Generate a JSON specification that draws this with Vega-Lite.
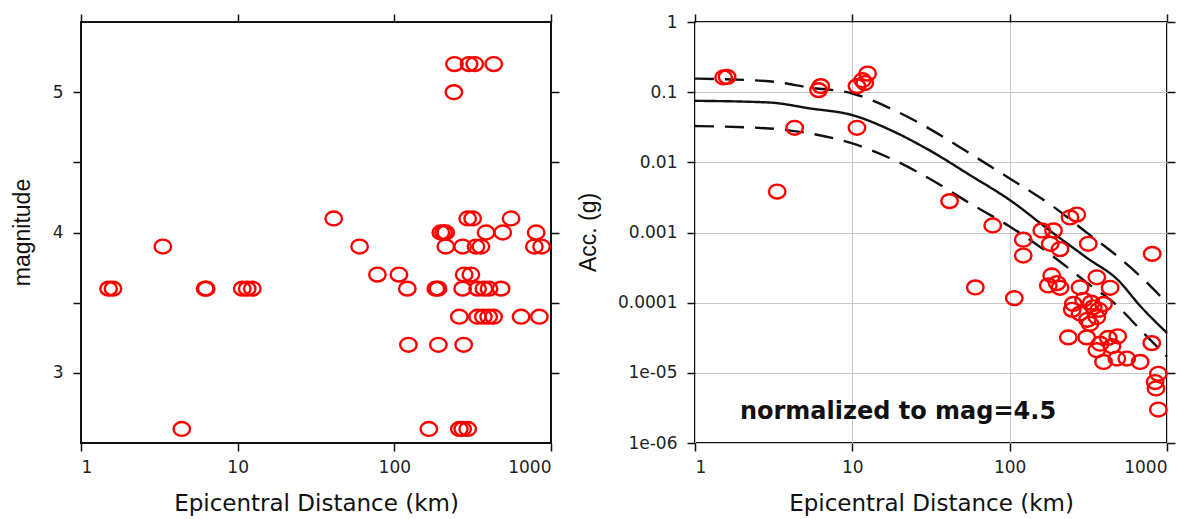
{
  "$schema": "https://vega.github.io/schema/vega-lite/v6.json",
  "background": "white",
  "padding": {"left": 10, "top": 12, "right": 5, "bottom": 5},
  "spacing": 144,
  "bounds": "flush",
  "config": {
    "view": {"stroke": "#111", "strokeWidth": 2},
    "axis": {
      "domain": false, "grid": false, "tickColor": "#111", "tickSize": 8, "tickWidth": 1.5,
      "labelFont": "DejaVu Sans", "labelFontSize": 17, "labelColor": "#222", "labelPadding": 8,
      "titleFont": "DejaVu Sans", "titleFontWeight": "normal", "titleColor": "#111",
      "gridColor": "#c8c8c8", "gridWidth": 1
    }
  },
  "datasets": {
    "mag": [
      {"dist": 242, "mag": 5.2}, {"dist": 300, "mag": 5.2}, {"dist": 326, "mag": 5.2}, {"dist": 431, "mag": 5.2},
      {"dist": 240, "mag": 5.0},
      {"dist": 41, "mag": 4.1}, {"dist": 294, "mag": 4.1}, {"dist": 316, "mag": 4.1}, {"dist": 556, "mag": 4.1},
      {"dist": 198, "mag": 4.0}, {"dist": 206, "mag": 4.0}, {"dist": 213, "mag": 4.0}, {"dist": 385, "mag": 4.0}, {"dist": 492, "mag": 4.0}, {"dist": 804, "mag": 4.0},
      {"dist": 3.33, "mag": 3.9}, {"dist": 60, "mag": 3.9}, {"dist": 213, "mag": 3.9}, {"dist": 273, "mag": 3.9}, {"dist": 332, "mag": 3.9}, {"dist": 357, "mag": 3.9}, {"dist": 783, "mag": 3.9}, {"dist": 870, "mag": 3.9},
      {"dist": 78, "mag": 3.7}, {"dist": 107, "mag": 3.7}, {"dist": 279, "mag": 3.7}, {"dist": 308, "mag": 3.7},
      {"dist": 1.5, "mag": 3.6}, {"dist": 1.6, "mag": 3.6}, {"dist": 6.2, "mag": 3.6}, {"dist": 6.3, "mag": 3.6}, {"dist": 10.7, "mag": 3.6}, {"dist": 11.5, "mag": 3.6}, {"dist": 12.4, "mag": 3.6}, {"dist": 121, "mag": 3.6}, {"dist": 184, "mag": 3.6}, {"dist": 190, "mag": 3.6}, {"dist": 273, "mag": 3.6}, {"dist": 340, "mag": 3.6}, {"dist": 373, "mag": 3.6}, {"dist": 402, "mag": 3.6}, {"dist": 480, "mag": 3.6},
      {"dist": 260, "mag": 3.4}, {"dist": 340, "mag": 3.4}, {"dist": 370, "mag": 3.4}, {"dist": 400, "mag": 3.4}, {"dist": 430, "mag": 3.4}, {"dist": 644, "mag": 3.4}, {"dist": 843, "mag": 3.4},
      {"dist": 123, "mag": 3.2}, {"dist": 191, "mag": 3.2}, {"dist": 277, "mag": 3.2},
      {"dist": 4.4, "mag": 2.6}, {"dist": 166, "mag": 2.6}, {"dist": 260, "mag": 2.6}, {"dist": 273, "mag": 2.6}, {"dist": 294, "mag": 2.6}
    ],
    "acc": [
      {"dist": 1.52, "acc": 0.162}, {"dist": 1.6, "acc": 0.165}, {"dist": 6.1, "acc": 0.107}, {"dist": 6.3, "acc": 0.122},
      {"dist": 10.7, "acc": 0.122}, {"dist": 11.6, "acc": 0.148}, {"dist": 12.5, "acc": 0.184}, {"dist": 12.0, "acc": 0.135},
      {"dist": 4.3, "acc": 0.0311}, {"dist": 10.7, "acc": 0.0311}, {"dist": 3.33, "acc": 0.00383}, {"dist": 41.5, "acc": 0.0028},
      {"dist": 78, "acc": 0.00126}, {"dist": 60.5, "acc": 0.000165}, {"dist": 107, "acc": 0.000116}, {"dist": 122, "acc": 0.00079},
      {"dist": 122, "acc": 0.00047}, {"dist": 160, "acc": 0.00107}, {"dist": 190, "acc": 0.00107}, {"dist": 181, "acc": 0.00069},
      {"dist": 209, "acc": 0.00058}, {"dist": 242, "acc": 0.00164}, {"dist": 267, "acc": 0.0018}, {"dist": 316, "acc": 0.00069},
      {"dist": 805, "acc": 0.000496}, {"dist": 185, "acc": 0.000244}, {"dist": 176, "acc": 0.000176}, {"dist": 209, "acc": 0.000163},
      {"dist": 200, "acc": 0.00019}, {"dist": 358, "acc": 0.00023}, {"dist": 435, "acc": 0.000163}, {"dist": 280, "acc": 0.000165},
      {"dist": 295, "acc": 0.00011}, {"dist": 254, "acc": 0.000096}, {"dist": 340, "acc": 0.000086}, {"dist": 395, "acc": 0.000096},
      {"dist": 280, "acc": 0.00007}, {"dist": 358, "acc": 0.000062}, {"dist": 324, "acc": 0.00005}, {"dist": 312, "acc": 0.000057},
      {"dist": 250, "acc": 0.000079}, {"dist": 368, "acc": 0.000079}, {"dist": 330, "acc": 0.0001}, {"dist": 236, "acc": 0.000032},
      {"dist": 309, "acc": 0.000032}, {"dist": 376, "acc": 0.000026}, {"dist": 358, "acc": 0.000021}, {"dist": 423, "acc": 0.0000315},
      {"dist": 486, "acc": 0.0000332}, {"dist": 447, "acc": 0.000024}, {"dist": 395, "acc": 0.0000143}, {"dist": 480, "acc": 0.000016},
      {"dist": 555, "acc": 0.000016}, {"dist": 675, "acc": 0.0000143}, {"dist": 800, "acc": 0.0000265}, {"dist": 881, "acc": 0.0000097},
      {"dist": 840, "acc": 0.0000074}, {"dist": 851, "acc": 0.000006}, {"dist": 881, "acc": 0.000003}
    ],
    "curves": [
      {"curve": "mean", "style": "solid", "dist": 1, "acc": 0.0753},
      {"curve": "mean", "style": "solid", "dist": 2.95, "acc": 0.0713},
      {"curve": "mean", "style": "solid", "dist": 5.4, "acc": 0.0586},
      {"curve": "mean", "style": "solid", "dist": 10, "acc": 0.0471},
      {"curve": "mean", "style": "solid", "dist": 18.4, "acc": 0.0273},
      {"curve": "mean", "style": "solid", "dist": 32, "acc": 0.0142},
      {"curve": "mean", "style": "solid", "dist": 55.8, "acc": 0.0066},
      {"curve": "mean", "style": "solid", "dist": 100, "acc": 0.00291},
      {"curve": "mean", "style": "solid", "dist": 189, "acc": 0.00098},
      {"curve": "mean", "style": "solid", "dist": 312, "acc": 0.00043},
      {"curve": "mean", "style": "solid", "dist": 486, "acc": 0.000212},
      {"curve": "mean", "style": "solid", "dist": 678, "acc": 0.000089},
      {"curve": "mean", "style": "solid", "dist": 1000, "acc": 0.000037},
      {"curve": "upper", "style": "dashed", "dist": 1, "acc": 0.156},
      {"curve": "upper", "style": "dashed", "dist": 2.95, "acc": 0.143},
      {"curve": "upper", "style": "dashed", "dist": 5.4, "acc": 0.116},
      {"curve": "upper", "style": "dashed", "dist": 10, "acc": 0.0958},
      {"curve": "upper", "style": "dashed", "dist": 18.4, "acc": 0.0555},
      {"curve": "upper", "style": "dashed", "dist": 32, "acc": 0.0288},
      {"curve": "upper", "style": "dashed", "dist": 55.8, "acc": 0.0134},
      {"curve": "upper", "style": "dashed", "dist": 100, "acc": 0.0059},
      {"curve": "upper", "style": "dashed", "dist": 189, "acc": 0.00234},
      {"curve": "upper", "style": "dashed", "dist": 312, "acc": 0.00098},
      {"curve": "upper", "style": "dashed", "dist": 486, "acc": 0.000456},
      {"curve": "upper", "style": "dashed", "dist": 678, "acc": 0.000237},
      {"curve": "upper", "style": "dashed", "dist": 1000, "acc": 0.000099},
      {"curve": "lower", "style": "dashed", "dist": 1, "acc": 0.0329},
      {"curve": "lower", "style": "dashed", "dist": 2.95, "acc": 0.0304},
      {"curve": "lower", "style": "dashed", "dist": 5.4, "acc": 0.0258},
      {"curve": "lower", "style": "dashed", "dist": 10, "acc": 0.0186},
      {"curve": "lower", "style": "dashed", "dist": 18.4, "acc": 0.0108},
      {"curve": "lower", "style": "dashed", "dist": 32, "acc": 0.0056},
      {"curve": "lower", "style": "dashed", "dist": 55.8, "acc": 0.00261},
      {"curve": "lower", "style": "dashed", "dist": 100, "acc": 0.00122},
      {"curve": "lower", "style": "dashed", "dist": 189, "acc": 0.000456},
      {"curve": "lower", "style": "dashed", "dist": 312, "acc": 0.00019},
      {"curve": "lower", "style": "dashed", "dist": 486, "acc": 0.000089},
      {"curve": "lower", "style": "dashed", "dist": 678, "acc": 0.000041},
      {"curve": "lower", "style": "dashed", "dist": 1000, "acc": 0.000017}
    ],
    "note": [{"dist": 1.93, "acc": 0.00000275, "label": "normalized to mag=4.5"}]
  },
  "hconcat": [
    {
      "width": 470,
      "height": 421,
      "data": {"name": "mag"},
      "layer": [
        {
          "mark": {"type": "point", "shape": "M -1 0 C -1 -0.464 -0.552 -0.84 0 -0.84 C 0.552 -0.84 1 -0.464 1 0 C 1 0.464 0.552 0.84 0 0.84 C -0.552 0.84 -1 0.464 -1 0 Z", "size": 272, "filled": false, "color": "#ff0000", "strokeWidth": 2.4, "opacity": 1},
          "encoding": {
            "x": {"field": "dist", "type": "quantitative", "scale": {"type": "log", "domain": [1, 1000]},
              "axis": {"orient": "bottom", "values": [1, 10, 100, 1000], "format": "d", "title": "Epicentral Distance (km)", "titleFontSize": 23, "titleX": 235, "titleY": 60, "titleBaseline": "middle"}},
            "y": {"field": "mag", "type": "quantitative", "scale": {"domain": [2.5, 5.5], "nice": false, "zero": false},
              "axis": {"orient": "left", "values": [3, 3.5, 4, 4.5, 5], "labelExpr": "datum.value % 1 === 0 ? format(datum.value, 'd') : ''", "labelPadding": 10, "title": "magnitude", "titleFont": "Liberation Sans", "titleFontSize": 23, "titleX": -59, "titleY": 210, "titleBaseline": "middle"}}
          }
        },
        {
          "mark": {"type": "point", "opacity": 0},
          "encoding": {
            "x": {"field": "dist", "type": "quantitative", "scale": {"type": "log", "domain": [1, 1000]},
              "axis": {"orient": "top", "values": [1, 10, 100, 1000], "labels": false, "title": null}},
            "y": {"field": "mag", "type": "quantitative", "scale": {"domain": [2.5, 5.5], "nice": false, "zero": false},
              "axis": {"orient": "right", "values": [3, 3.5, 4, 4.5, 5], "labels": false, "title": null}}
          }
        }
      ],
      "resolve": {"axis": {"x": "independent", "y": "independent"}}
    },
    {
      "width": 472,
      "height": 421,
      "layer": [
        {
          "data": {"name": "curves"},
          "mark": {"type": "line", "color": "#111", "strokeWidth": 2.4, "interpolate": "monotone"},
          "encoding": {
            "x": {"field": "dist", "type": "quantitative", "scale": {"type": "log", "domain": [1, 1000]}, "axis": null},
            "y": {"field": "acc", "type": "quantitative", "scale": {"type": "log", "domain": [0.000001, 1]}, "axis": null},
            "detail": {"field": "curve"},
            "strokeDash": {"field": "style", "type": "nominal", "scale": {"domain": ["solid", "dashed"], "range": [[1, 0], [19, 11]]}, "legend": null}
          }
        },
        {
          "data": {"name": "acc"},
          "mark": {"type": "point", "shape": "M -1 0 C -1 -0.464 -0.552 -0.84 0 -0.84 C 0.552 -0.84 1 -0.464 1 0 C 1 0.464 0.552 0.84 0 0.84 C -0.552 0.84 -1 0.464 -1 0 Z", "size": 272, "filled": false, "color": "#ff0000", "strokeWidth": 2.4, "opacity": 1},
          "encoding": {
            "x": {"field": "dist", "type": "quantitative", "scale": {"type": "log", "domain": [1, 1000]},
              "axis": {"orient": "bottom", "grid": true, "values": [1, 10, 100, 1000], "format": "d", "title": "Epicentral Distance (km)", "titleFontSize": 23, "titleX": 236, "titleY": 60, "titleBaseline": "middle"}},
            "y": {"field": "acc", "type": "quantitative", "scale": {"type": "log", "domain": [0.000001, 1]},
              "axis": {"orient": "left", "grid": true, "values": [0.000001, 0.00001, 0.0001, 0.001, 0.01, 0.1, 1], "labelPadding": 10,
                "labelExpr": "datum.value > 0.5 ? '1' : datum.value > 0.05 ? '0.1' : datum.value > 0.005 ? '0.01' : datum.value > 0.0005 ? '0.001' : datum.value > 0.00005 ? '0.0001' : datum.value > 0.000005 ? '1e-05' : '1e-06'",
                "title": "Acc. (g)", "titleFont": "Liberation Sans", "titleFontSize": 23, "titleX": -107, "titleY": 210, "titleBaseline": "middle"}}
          }
        },
        {
          "data": {"name": "acc"},
          "mark": {"type": "point", "opacity": 0},
          "encoding": {
            "x": {"field": "dist", "type": "quantitative", "scale": {"type": "log", "domain": [1, 1000]},
              "axis": {"orient": "top", "values": [1, 10, 100, 1000], "labels": false, "title": null}},
            "y": {"field": "acc", "type": "quantitative", "scale": {"type": "log", "domain": [0.000001, 1]},
              "axis": {"orient": "right", "values": [0.000001, 0.00001, 0.0001, 0.001, 0.01, 0.1, 1], "labels": false, "title": null}}
          }
        },
        {
          "data": {"name": "note"},
          "mark": {"type": "text", "font": "DejaVu Sans", "fontWeight": "bold", "fontSize": 24, "align": "left", "baseline": "middle", "color": "#111"},
          "encoding": {
            "x": {"field": "dist", "type": "quantitative", "scale": {"type": "log", "domain": [1, 1000]}, "axis": null},
            "y": {"field": "acc", "type": "quantitative", "scale": {"type": "log", "domain": [0.000001, 1]}, "axis": null},
            "text": {"field": "label"}
          }
        }
      ],
      "resolve": {"axis": {"x": "independent", "y": "independent"}}
    }
  ]
}
